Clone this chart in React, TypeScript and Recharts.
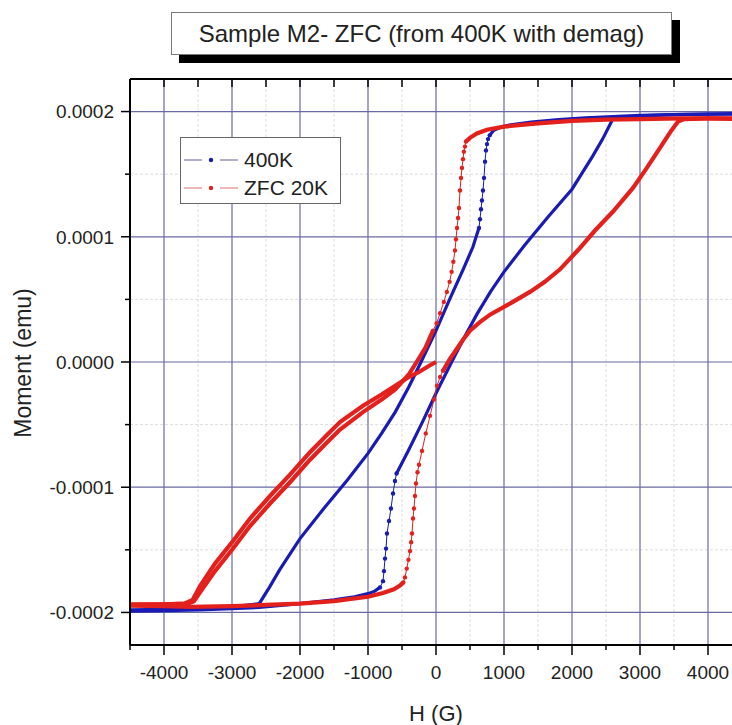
import { CartesianGrid, Line, LineChart, XAxis, YAxis } from "recharts";

type Pt = [number, number];

// field H (G) and moment in units of 1e-4 emu
const H_TICKS = [-4500, -4000, -3500, -3000, -2500, -2000, -1500, -1000, -500, 0, 500, 1000, 1500, 2000, 2500, 3000, 3500, 4000, 4500];
const H_MAJOR = [-4000, -3000, -2000, -1000, 0, 1000, 2000, 3000, 4000];
const H_MINOR = [-3500, -2500, -1500, -500, 500, 1500, 2500, 3500];
const M_TICKS = [-2, -1.5, -1, -0.5, 0, 0.5, 1, 1.5, 2];
const M_MAJOR = [-2, -1, 0, 1, 2];
const M_MINOR = [-1.5, -0.5, 0.5, 1.5];

// 400K loop
const BLUE_DESC_TOP: Pt[] = [[4500, 1.98], [4000, 1.98], [3500, 1.975], [3000, 1.97], [2600, 1.96], [2200, 1.95], [1800, 1.935], [1400, 1.915], [1100, 1.895], [950, 1.875], [850, 1.85], [790, 1.81]];
const BLUE_DESC_JUMP: Pt[] = [[790, 1.81], [765, 1.78], [750, 1.74], [735, 1.69], [721, 1.6], [706, 1.47], [691, 1.37], [676, 1.29], [662, 1.22], [647, 1.14], [632, 1.07]];
const BLUE_DESC_SLOPE: Pt[] = [[632, 1.07], [590, 1.0], [544, 0.92], [400, 0.74], [200, 0.5], [0, 0.25], [-220, 0.0], [-400, -0.2], [-600, -0.4], [-800, -0.57], [-1000, -0.73], [-1300, -0.94], [-1650, -1.17], [-2000, -1.41], [-2300, -1.66], [-2450, -1.8], [-2600, -1.93], [-3000, -1.955], [-3500, -1.965], [-4000, -1.975], [-4500, -1.98]];
const BLUE_ASC_BOTTOM: Pt[] = [[-4500, -1.99], [-4000, -1.985], [-3500, -1.98], [-3000, -1.97], [-2600, -1.96], [-2000, -1.93], [-1500, -1.9], [-1200, -1.875], [-1000, -1.85], [-900, -1.83], [-824, -1.8]];
const BLUE_ASC_JUMP: Pt[] = [[-824, -1.8], [-779, -1.75], [-765, -1.67], [-750, -1.57], [-735, -1.49], [-721, -1.37], [-691, -1.27], [-662, -1.17], [-632, -1.05], [-603, -0.95], [-580, -0.89]];
const BLUE_ASC_SLOPE: Pt[] = [[-580, -0.89], [-400, -0.7], [-200, -0.48], [0, -0.25], [230, 0.0], [400, 0.18], [600, 0.38], [800, 0.56], [1000, 0.72], [1300, 0.93], [1650, 1.16], [2000, 1.38], [2300, 1.64], [2450, 1.78], [2600, 1.94], [3000, 1.965], [3500, 1.975], [4000, 1.98], [4500, 1.985]];

// ZFC 20K loop (with initial curve from the demagnetised state)
const RED_INIT: Pt[] = [[0, 0.0], [-100, -0.03], [-250, -0.08], [-400, -0.12], [-600, -0.19], [-800, -0.26], [-1074, -0.35], [-1412, -0.48], [-1600, -0.58], [-1853, -0.72], [-2147, -0.9], [-2441, -1.07], [-2735, -1.25], [-2985, -1.43], [-3250, -1.61], [-3470, -1.79], [-3580, -1.9], [-3700, -1.93], [-4000, -1.935], [-4500, -1.94]];
const RED_ASC_BOTTOM: Pt[] = [[-4500, -1.945], [-4000, -1.95], [-3600, -1.955], [-3000, -1.95], [-2500, -1.94], [-2000, -1.93], [-1500, -1.91], [-1000, -1.875], [-780, -1.845], [-620, -1.815], [-530, -1.785], [-480, -1.76]];
const RED_ASC_JUMP: Pt[] = [[-480, -1.76], [-456, -1.72], [-430, -1.65], [-405, -1.58], [-382, -1.51], [-366, -1.44], [-353, -1.37], [-338, -1.25], [-324, -1.17], [-309, -1.07], [-294, -0.97], [-272, -0.88], [-250, -0.82], [-206, -0.71], [-150, -0.57], [-88, -0.43], [-30, -0.3], [15, -0.19], [60, -0.12], [103, -0.07]];
const RED_ASC_SLOPE: Pt[] = [[103, -0.07], [200, 0.02], [300, 0.1], [400, 0.18], [500, 0.25], [650, 0.32], [800, 0.38], [1100, 0.47], [1382, 0.56], [1600, 0.64], [1824, 0.74], [2100, 0.9], [2338, 1.05], [2600, 1.2], [2897, 1.39], [3100, 1.55], [3294, 1.71], [3450, 1.84], [3560, 1.92], [3650, 1.94], [4000, 1.945], [4500, 1.945]];
const RED_DESC_TOP: Pt[] = [[4500, 1.94], [4000, 1.945], [3600, 1.945], [3000, 1.94], [2500, 1.935], [2000, 1.925], [1500, 1.905], [1000, 1.88], [750, 1.855], [600, 1.825], [500, 1.79], [440, 1.76]];
const RED_DESC_JUMP: Pt[] = [[440, 1.76], [426, 1.72], [410, 1.68], [397, 1.62], [382, 1.55], [368, 1.47], [353, 1.37], [338, 1.23], [324, 1.15], [309, 1.07], [294, 0.98], [279, 0.89], [255, 0.8], [230, 0.72], [200, 0.64], [160, 0.56], [115, 0.48], [60, 0.39], [10, 0.31], [-44, 0.25]];
const RED_DESC_SLOPE: Pt[] = [[-44, 0.25], [-150, 0.12], [-250, 0.03], [-400, -0.1], [-600, -0.22], [-800, -0.3], [-1074, -0.4], [-1412, -0.54], [-1600, -0.64], [-1853, -0.78], [-2147, -0.96], [-2441, -1.13], [-2735, -1.31], [-2985, -1.49], [-3250, -1.67], [-3470, -1.84], [-3560, -1.91], [-3650, -1.93], [-4000, -1.935], [-4500, -1.935]];

const BLUE = "#1a1ab4";
const RED = "#e3201c";
const FONT = '"Liberation Sans", Arial, sans-serif';

const SERIES = [
  { id: "b1", pts: BLUE_DESC_TOP, color: BLUE, jump: false },
  { id: "b2", pts: BLUE_DESC_JUMP, color: BLUE, jump: true },
  { id: "b3", pts: BLUE_DESC_SLOPE, color: BLUE, jump: false },
  { id: "b4", pts: BLUE_ASC_BOTTOM, color: BLUE, jump: false },
  { id: "b5", pts: BLUE_ASC_JUMP, color: BLUE, jump: true },
  { id: "b6", pts: BLUE_ASC_SLOPE, color: BLUE, jump: false },
  { id: "r0", pts: RED_INIT, color: RED, jump: false },
  { id: "r1", pts: RED_ASC_BOTTOM, color: RED, jump: false },
  { id: "r2", pts: RED_ASC_JUMP, color: RED, jump: true },
  { id: "r3", pts: RED_ASC_SLOPE, color: RED, jump: false },
  { id: "r4", pts: RED_DESC_TOP, color: RED, jump: false },
  { id: "r5", pts: RED_DESC_JUMP, color: RED, jump: true },
  { id: "r6", pts: RED_DESC_SLOPE, color: RED, jump: false },
];

const toRows = (pts: Pt[]) => pts.map(([h, m]) => ({ h, m }));

const BottomTick = (p: any) => {
  const v = p.payload.value;
  const major = v % 1000 === 0;
  return (
    <g>
      <line x1={p.x} x2={p.x} y1={p.y} y2={p.y + (major ? 10 : 5)} stroke="#000" strokeWidth={1.5} />
      {major && (
        <text x={p.x} y={p.y + 34} textAnchor="middle" fontSize={19} fontFamily={FONT} fill="#222">
          {v}
        </text>
      )}
    </g>
  );
};

const TopTick = (p: any) => (
  <line x1={p.x} x2={p.x} y1={p.y} y2={p.y + 8} stroke="#000" strokeWidth={1.5} />
);

const LeftTick = (p: any) => {
  const v = p.payload.value;
  const major = Number.isInteger(v);
  return (
    <g>
      <line x1={p.x - (major ? 9 : 5)} x2={p.x} y1={p.y} y2={p.y} stroke="#000" strokeWidth={1.5} />
      {major && (
        <text x={p.x - 16} y={p.y} dy="0.36em" textAnchor="end" fontSize={19} fontFamily={FONT} fill="#222">
          {(v / 10000).toFixed(4)}
        </text>
      )}
    </g>
  );
};

const LegendMark = ({ line, dot }: { line: string; dot: string }) => (
  <svg width={56} height={12} style={{ display: "block" }}>
    <line x1={1} x2={19} y1={6} y2={6} stroke={line} strokeWidth={1.2} />
    <circle cx={28} cy={6} r={2.2} fill={dot} />
    <line x1={37} x2={55} y1={6} y2={6} stroke={line} strokeWidth={1.2} />
  </svg>
);

export default function App() {
  return (
    <div
      style={{
        position: "fixed",
        left: 0,
        top: 0,
        width: 732,
        height: 725,
        overflow: "hidden",
        background: "#fff",
        fontFamily: FONT,
        color: "#222",
      }}
    >
      <LineChart width={760} height={725} margin={{ top: 0, right: 18, bottom: 0, left: 0 }}>
        <CartesianGrid
          xAxisId="b"
          yAxisId="l"
          verticalValues={H_MINOR}
          horizontalValues={M_MINOR}
          stroke="#dddddd"
          strokeDasharray="3 2"
        />
        <CartesianGrid
          xAxisId="b"
          yAxisId="l"
          verticalValues={H_MAJOR}
          horizontalValues={M_MAJOR}
          stroke="#6a6aa2"
          strokeWidth={1.2}
        />
        <XAxis
          xAxisId="b"
          type="number"
          dataKey="h"
          domain={[-4500, 4500]}
          ticks={H_TICKS}
          interval={0}
          allowDataOverflow
          height={80}
          tickSize={0}
          tickMargin={0}
          tickLine={false}
          axisLine={{ stroke: "#000", strokeWidth: 2 }}
          tick={(p: any) => <BottomTick {...p} />}
        />
        <XAxis
          xAxisId="t"
          orientation="top"
          type="number"
          dataKey="h"
          domain={[-4500, 4500]}
          ticks={H_TICKS}
          interval={0}
          allowDataOverflow
          height={79}
          tickSize={0}
          tickMargin={0}
          tickLine={false}
          axisLine={{ stroke: "#000", strokeWidth: 2 }}
          tick={(p: any) => <TopTick {...p} />}
        />
        <YAxis
          yAxisId="l"
          type="number"
          domain={[-2.26, 2.26]}
          ticks={M_TICKS}
          interval={0}
          allowDataOverflow
          width={130}
          tickSize={0}
          tickMargin={0}
          tickLine={false}
          axisLine={{ stroke: "#000", strokeWidth: 2 }}
          tick={(p: any) => <LeftTick {...p} />}
        />
        {SERIES.map((s) => (
          <Line
            key={s.id}
            xAxisId="b"
            yAxisId="l"
            data={toRows(s.pts)}
            dataKey="m"
            type="linear"
            stroke={s.color}
            strokeWidth={s.jump ? 1 : s.color === RED ? 4.2 : 3.2}
            dot={s.jump ? { r: 2.2, fill: s.color, stroke: s.color, strokeWidth: 0 } : false}
            activeDot={false}
            isAnimationActive={false}
          />
        ))}
      </LineChart>

      <div
        style={{
          position: "absolute",
          left: 171,
          top: 12,
          width: 501,
          height: 43,
          boxSizing: "border-box",
          border: "1px solid #7a7a7a",
          boxShadow: "8px 8px 0 #000",
          background: "#fff",
          display: "flex",
          alignItems: "center",
          justifyContent: "center",
          fontSize: 24,
        }}
      >
        Sample M2- ZFC (from 400K with demag)
      </div>

      <div
        style={{
          position: "absolute",
          left: 180,
          top: 137,
          width: 161,
          height: 67,
          boxSizing: "border-box",
          border: "1px solid #666",
          background: "#fff",
          fontSize: 21,
        }}
      >
        <div style={{ position: "absolute", left: 2, top: 10, display: "flex", alignItems: "center", height: 24 }}>
          <LegendMark line="#7b7bb0" dot={BLUE} />
          <span style={{ marginLeft: 5 }}>400K</span>
        </div>
        <div style={{ position: "absolute", left: 2, top: 38, display: "flex", alignItems: "center", height: 24 }}>
          <LegendMark line="#e08a88" dot={RED} />
          <span style={{ marginLeft: 5 }}>ZFC 20K</span>
        </div>
      </div>

      <div
        style={{
          position: "absolute",
          left: 23,
          top: 363,
          transform: "translate(-50%, -50%) rotate(-90deg)",
          whiteSpace: "nowrap",
          fontSize: 23,
        }}
      >
        Moment (emu)
      </div>

      <div
        style={{
          position: "absolute",
          left: 436,
          top: 703,
          transform: "translateX(-50%)",
          whiteSpace: "nowrap",
          fontSize: 22,
          lineHeight: "22px",
        }}
      >
        H (G)
      </div>
    </div>
  );
}
